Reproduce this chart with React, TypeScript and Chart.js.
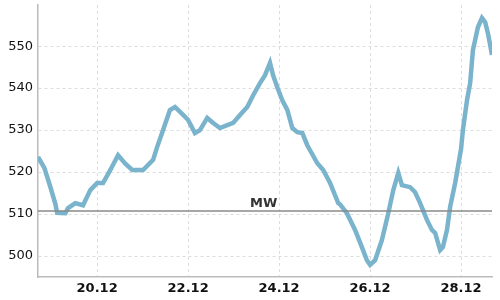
import React, { useEffect, useRef } from "react";
import { Chart, registerables } from "chart.js";

Chart.register(...registerables);

// x = day of December (fractional), y = value
const days: number[] = [
  18.70, 18.84, 18.97, 19.08, 19.12, 19.30, 19.36, 19.52, 19.69, 19.85,
  20.00, 20.13, 20.29, 20.46, 20.62, 20.77, 21.01, 21.23, 21.32, 21.45,
  21.60, 21.71, 21.89, 22.00, 22.15, 22.26, 22.42, 22.55, 22.70, 22.86,
  22.99, 23.14, 23.30, 23.43, 23.58, 23.69, 23.80, 23.87, 23.96, 24.07,
  24.18, 24.29, 24.40, 24.51, 24.62, 24.68, 24.84, 24.97, 25.12, 25.30,
  25.34, 25.49, 25.67, 25.82, 25.93, 26.00, 26.11, 26.26, 26.40, 26.51,
  26.62, 26.70, 26.88, 26.99, 27.10, 27.25, 27.36, 27.43, 27.54, 27.60,
  27.69, 27.76, 27.87, 27.93, 28.00, 28.04, 28.13, 28.20, 28.26, 28.37,
  28.46, 28.53, 28.59, 28.68,
];
const values: number[] = [
  523.6, 521, 516.5, 512.5, 510.3, 510.2, 511.4, 512.6, 512.1, 515.7,
  517.4, 517.4, 520.5, 524, 522, 520.5, 520.5, 522.9, 526, 530,
  534.8, 535.5, 533.6, 532.4, 529.3, 530, 532.9, 531.7, 530.5, 531.2,
  531.7, 533.6, 535.5, 538.3, 541.2, 543.1, 546, 543, 540.2, 537.1,
  534.8, 530.5, 529.5, 529.3, 526.4, 525.2, 522.1, 520.5, 517.4, 512.6,
  512.3, 510.2, 506.2, 502.1, 499, 497.9, 499, 503.8, 510.2, 515.7,
  519.8, 516.9, 516.4, 515.2, 512.6, 508.6, 506.2, 505.5, 501.4, 502.1,
  506.2, 511.7, 517.4, 521.2, 525.5, 530, 537.1, 541.2, 549, 554.5,
  556.7, 555.7, 553.1, 547.9,
];
const xTicks: number[] = [20, 22, 24, 26, 28];
const xTickLabels: string[] = ["20.12", "22.12", "24.12", "26.12", "28.12"];
const yTicks: number[] = [500, 510, 520, 530, 540, 550];
const meanValue = 510.7;
const meanLabel = "MW";

const FONT = "'DejaVu Sans', sans-serif";

const meanPlugin = {
  id: "meanLine",
  afterDatasetsDraw(chart: any) {
    const { ctx, chartArea, scales } = chart;
    const y = scales.y.getPixelForValue(meanValue);
    ctx.save();
    ctx.strokeStyle = "#8a8a8a";
    ctx.lineWidth = 1.5;
    ctx.beginPath();
    ctx.moveTo(chartArea.left, y);
    ctx.lineTo(chartArea.right, y);
    ctx.stroke();
    ctx.fillStyle = "#333";
    ctx.font = `bold 13px ${FONT}`;
    ctx.textAlign = "center";
    ctx.textBaseline = "bottom";
    const xMid = scales.x.getPixelForValue(23.66);
    ctx.fillText(meanLabel, xMid, y - 1);
    ctx.restore();
  },
};

export default function App() {
  const ref = useRef<HTMLCanvasElement>(null);
  useEffect(() => {
    if (!ref.current) return;
    const chart = new Chart(ref.current, {
      type: "line",
      data: {
        datasets: [
          {
            data: days.map((d, i) => ({ x: d, y: values[i] })),
            borderColor: "#7ab3cc",
            borderWidth: 4.5,
            pointRadius: 0,
            tension: 0,
            fill: false,
          },
        ],
      },
      options: {
        animation: false,
        responsive: false,
        maintainAspectRatio: false,
        layout: { padding: { top: 5, right: 8, left: 0, bottom: 0 } },
        plugins: { legend: { display: false }, tooltip: { enabled: false } },
        scales: {
          x: {
            type: "linear",
            min: 18.70,
            max: 28.68,
            afterBuildTicks: (axis: any) => {
              axis.ticks = xTicks.map((v) => ({ value: v }));
            },
            afterFit: (axis: any) => {
              axis.height = 23;
              axis.paddingLeft = 0;
              axis.paddingRight = 0;
            },
            ticks: {
              callback: (v: any) => {
                const i = xTicks.indexOf(Number(v));
                return i >= 0 ? xTickLabels[i] : "";
              },
              font: { family: FONT, size: 13, weight: "bold" },
              color: "#111",
              padding: 4,
              maxRotation: 0,
            },
            grid: {
              color: "#dddddd",
              lineWidth: 1,
              drawTicks: false,
              tickLength: 0,
            },
            border: { color: "#bbbbbb", width: 1.5, dash: [3, 3] },
          },
          y: {
            type: "linear",
            min: 495,
            max: 559.8,
            afterBuildTicks: (axis: any) => {
              axis.ticks = yTicks.map((v) => ({ value: v }));
            },
            afterFit: (axis: any) => {
              axis.width = 38;
              axis.paddingTop = 0;
              axis.paddingBottom = 0;
            },
            ticks: {
              font: { family: FONT, size: 13 },
              color: "#111",
              padding: 5,
            },
            grid: {
              color: "#dddddd",
              lineWidth: 1,
              drawTicks: false,
              tickLength: 0,
            },
            border: { color: "#bbbbbb", width: 1.5, dash: [3, 3] },
          },
        },
      } as any,
      plugins: [meanPlugin],
    });
    return () => chart.destroy();
  }, []);
  return (
    <div style={{ position: "fixed", left: 0, top: 0, width: 500, height: 300, background: "#fff" }}>
      <canvas ref={ref} width={500} height={300} style={{ width: 500, height: 300 }} />
    </div>
  );
}
